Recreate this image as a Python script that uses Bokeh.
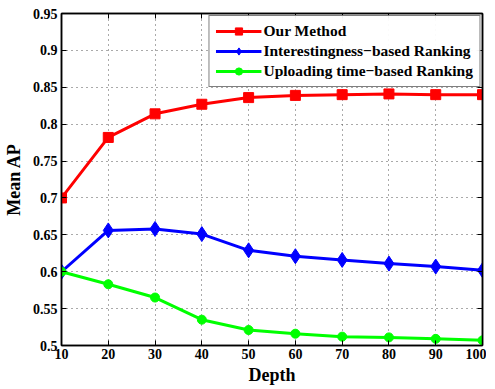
from bokeh.plotting import figure
from bokeh.models import LinearAxis, Range1d, FixedTicker, Legend, LegendItem
from bokeh.embed import file_html
from bokeh.resources import INLINE

depth = [10, 20, 30, 40, 50, 60, 70, 80, 90, 100]
our_method = [0.700, 0.782, 0.814, 0.827, 0.836, 0.839, 0.840, 0.841, 0.840, 0.840]
interest_rank = [0.600, 0.656, 0.658, 0.651, 0.629, 0.621, 0.616, 0.611, 0.607, 0.602]
upload_rank = [0.600, 0.583, 0.565, 0.535, 0.521, 0.516, 0.512, 0.511, 0.509, 0.507]
y_ticks = [0.5, 0.55, 0.6, 0.65, 0.7, 0.75, 0.8, 0.85, 0.9, 0.95]
x_ticks = depth
labels = ["Our Method", "Interestingness\u2212based Ranking", "Uploading time\u2212based Ranking"]

FONT = "Liberation Serif"

p = figure(frame_width=421, frame_height=332, output_backend="svg", toolbar_location=None,
           x_range=Range1d(10, 100), y_range=Range1d(0.5, 0.95),
           min_border_left=54, min_border_top=13, min_border_right=4, min_border_bottom=30)
p.outline_line_color = "black"
p.outline_line_width = 1.5

for ax in [p.xaxis[0], p.yaxis[0]]:
    ax.major_tick_in = 5
    ax.major_tick_out = 0
    ax.minor_tick_in = 0
    ax.minor_tick_out = 0
    ax.axis_line_width = 1.5
    ax.major_label_text_font = FONT
    ax.major_label_text_font_style = "bold"
    ax.major_label_text_font_size = "14px"
    ax.major_label_text_color = "black"
    ax.axis_label_text_font = FONT
    ax.axis_label_text_font_style = "bold"
    ax.axis_label_text_font_size = "18px"
    ax.axis_label_text_color = "black"

p.xaxis.ticker = FixedTicker(ticks=x_ticks)
p.yaxis.ticker = FixedTicker(ticks=y_ticks)
p.yaxis.major_label_overrides = {v: ("%g" % v) for v in y_ticks}
p.xaxis.axis_label = "Depth"
p.yaxis.axis_label = "Mean AP"
p.xaxis.major_label_standoff = 3
p.xaxis.axis_label_standoff = 3
p.yaxis.major_label_standoff = 4
p.yaxis.axis_label_standoff = 6

p.xgrid.ticker = FixedTicker(ticks=x_ticks)
p.ygrid.ticker = FixedTicker(ticks=y_ticks)
for g in [p.xgrid[0], p.ygrid[0]]:
    g.grid_line_color = "#555555"
    g.grid_line_dash = "1 4"
    g.grid_line_width = 1

# mirrored ticks on top and right
top = LinearAxis(ticker=FixedTicker(ticks=x_ticks), major_tick_in=5, major_tick_out=0,
                 minor_tick_in=0, minor_tick_out=0, major_label_text_color=None,
                 major_label_text_font_size="1px",
                 major_label_standoff=0, axis_line_width=1.5)
right = LinearAxis(ticker=FixedTicker(ticks=y_ticks), major_tick_in=5, major_tick_out=0,
                   minor_tick_in=0, minor_tick_out=0, major_label_text_color=None,
                   major_label_text_font_size="1px",
                   major_label_standoff=0, axis_line_width=1.5)
p.add_layout(top, "above")
p.add_layout(right, "right")

r1 = p.line(depth, our_method, line_color="#ff0000", line_width=3)
s1 = p.scatter(depth, our_method, marker="square", size=10, fill_color="#ff0000", line_color="#ff0000")
r2 = p.line(depth, interest_rank, line_color="#0000ff", line_width=3)
s2 = p.scatter(depth, interest_rank, marker="diamond", size=15, fill_color="#0000ff", line_color="#0000ff")
r3 = p.line(depth, upload_rank, line_color="#00ff00", line_width=3)
s3 = p.scatter(depth, upload_rank, marker="circle", size=9, fill_color="#00ff00", line_color="#00ff00")

legend = Legend(items=[LegendItem(label=labels[0], renderers=[r1, s1]),
                       LegendItem(label=labels[1], renderers=[r2, s2]),
                       LegendItem(label=labels[2], renderers=[r3, s3])],
                location="top_right")
legend.label_text_font = FONT
legend.label_text_font_style = "bold"
legend.label_text_font_size = "15.5px"
legend.label_text_color = "black"
legend.border_line_color = "black"
legend.border_line_width = 1.5
legend.glyph_width = 46
legend.glyph_height = 18
legend.spacing = 2
legend.padding = 6
legend.margin = 2
legend.label_standoff = 2
legend.label_height = 18
p.add_layout(legend)

open("out.html", "w").write(file_html(p, INLINE))
